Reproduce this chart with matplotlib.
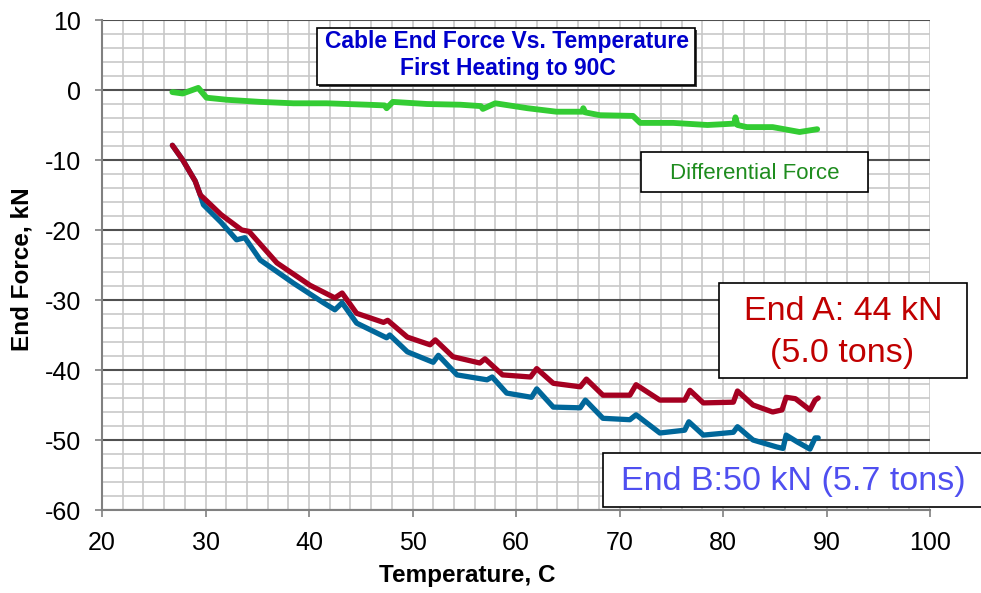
import matplotlib
matplotlib.use("Agg")
import matplotlib.pyplot as plt
from matplotlib.patches import Rectangle
from matplotlib.ticker import MultipleLocator

plt.rcParams["font.family"] = ["Liberation Sans", "DejaVu Sans"]
plt.rcParams["axes.unicode_minus"] = False

# End A (red)
temp_a = [26.8, 27.8, 29.0, 29.5, 29.8, 31.5, 33.5, 34.2, 36.9, 40.1, 42.5, 43.2, 44.6,
          47.2, 47.6, 49.5, 51.7, 52.2, 53.9, 56.5, 57.0, 58.7, 61.4, 62.0, 63.6,
          66.2, 66.8, 68.4, 71.0, 71.6, 73.9, 76.3, 76.8, 78.1, 81.0, 81.4, 82.9,
          84.8, 85.7, 86.1, 87.0, 88.4, 88.9, 89.2]
force_a = [-7.9, -10.0, -13.0, -15.0, -15.4, -17.8, -20.0, -20.2, -24.7, -27.9, -29.7, -29.0, -31.9,
           -33.2, -32.9, -35.3, -36.4, -35.7, -38.1, -39.0, -38.4, -40.7, -41.0, -39.8, -41.9,
           -42.4, -41.3, -43.6, -43.6, -42.1, -44.3, -44.3, -42.9, -44.7, -44.6, -43.0, -45.0,
           -46.0, -45.7, -43.9, -44.1, -45.7, -44.3, -44.0]

# End B (blue)
temp_b = [26.8, 27.8, 29.0, 29.5, 29.8, 31.5, 33.0, 33.8, 35.3, 38.5, 41.4, 42.5, 43.2, 44.6,
          47.5, 47.8, 49.5, 52.0, 52.5, 54.3, 57.2, 57.7, 59.1, 61.5, 62.0, 63.6,
          66.2, 66.7, 68.4, 71.0, 71.6, 73.9, 76.3, 76.7, 78.1, 81.0, 81.4, 82.9,
          85.2, 85.8, 86.1, 87.2, 88.4, 88.9, 89.2]
force_b = [-7.9, -10.0, -13.0, -15.0, -16.4, -18.9, -21.4, -21.1, -24.3, -27.6, -30.4, -31.4, -30.4, -33.3,
           -35.4, -35.0, -37.4, -38.9, -37.9, -40.7, -41.4, -41.0, -43.3, -43.9, -42.7, -45.3,
           -45.4, -44.3, -46.9, -47.1, -46.4, -49.0, -48.6, -47.4, -49.3, -48.9, -48.1, -50.0,
           -51.0, -51.2, -49.3, -50.3, -51.3, -49.7, -49.7]

# Differential force (green)
temp_d = [26.8, 27.8, 29.3, 30.1, 32.1, 35.3, 38.5, 41.7, 45.6, 47.3, 47.5, 48.1, 51.4,
          54.6, 56.6, 56.8, 58.0, 61.1, 63.9, 66.4, 66.5, 66.7, 68.1, 71.3, 72.0,
          75.2, 78.5, 81.1, 81.2, 81.4, 82.3, 84.8, 87.4, 89.1]
force_d = [-0.3, -0.5, 0.3, -1.1, -1.4, -1.7, -1.9, -1.9, -2.1, -2.2, -2.6, -1.7, -2.0,
           -2.1, -2.3, -2.7, -1.9, -2.6, -3.1, -3.1, -2.6, -3.2, -3.6, -3.7, -4.7,
           -4.7, -5.0, -4.8, -3.9, -5.0, -5.3, -5.3, -6.0, -5.6]

W, H = 981, 593


def px_box(fig, x0, y0, x1, y1, shadow=False):
    """Rectangle given in image pixels (origin top-left)."""
    if shadow:
        fig.patches.append(Rectangle((x0 / W + 2 / W, 1 - (y1 + 2) / H), (x1 - x0) / W, (y1 - y0) / H,
                                     transform=fig.transFigure, facecolor="#404040",
                                     edgecolor="none", zorder=9))
    fig.patches.append(Rectangle((x0 / W, 1 - y1 / H), (x1 - x0) / W, (y1 - y0) / H,
                                 transform=fig.transFigure, facecolor="white",
                                 edgecolor="black", lw=1.2, zorder=10))


def px_text(fig, x, y, s, **kw):
    fig.text(x / W, 1 - y / H, s, ha="center", va="baseline", zorder=11, **kw)


fig = plt.figure(figsize=(W / 100, H / 100), dpi=100)
ax = fig.add_axes([102 / W, 1 - 510 / H, (930 - 102) / W, (510 - 20) / H])

ax.plot(temp_d, force_d, color="#33CC33", lw=4.2, solid_capstyle="round", solid_joinstyle="round", zorder=3)
ax.plot(temp_b, force_b, color="#00679A", lw=3.8, solid_capstyle="round", solid_joinstyle="round", zorder=3)
ax.plot(temp_a, force_a, color="#A50021", lw=3.8, solid_capstyle="round", solid_joinstyle="round", zorder=4)

ax.set_xlim(20, 100)
ax.set_ylim(-60, 10)
ax.xaxis.set_major_locator(MultipleLocator(10))
ax.xaxis.set_minor_locator(MultipleLocator(2))
ax.yaxis.set_major_locator(MultipleLocator(10))
ax.yaxis.set_minor_locator(MultipleLocator(2))
ax.grid(which="minor", color="#C8C8C8", lw=1.2, zorder=0)
ax.grid(which="major", axis="x", color="#C8C8C8", lw=1.2, zorder=0)
ax.grid(which="major", axis="y", color="#505050", lw=1.5, zorder=1)
ax.set_axisbelow(True)
for s in ("top", "right"):
    ax.spines[s].set_visible(False)
for s in ("left", "bottom"):
    ax.spines[s].set_color("#808080")
    ax.spines[s].set_linewidth(1.5)
ax.tick_params(which="major", direction="out", length=5, width=1.2, color="#808080",
               labelsize=18, pad=10)
ax.tick_params(which="minor", length=0)

fig.text(22 / W, 1 - 269 / H, "End Force, kN", rotation=90, ha="center", va="center",
         fontsize=17.5, fontweight="bold")
fig.text(467 / W, 1 - 582 / H, "Temperature, C", ha="center", va="baseline",
         fontsize=17.5, fontweight="bold")

# title box
px_box(fig, 317, 28, 695, 85, shadow=True)
px_text(fig, 507, 48, "Cable End Force Vs. Temperature", fontsize=16.5, fontweight="bold", color="#0000CC")
px_text(fig, 508, 75, "First Heating to 90C", fontsize=16.5, fontweight="bold", color="#0000CC")

# differential force label
px_box(fig, 641, 152, 868, 192)
px_text(fig, 755, 179, "Differential Force", fontsize=16, color="#1E8C1E")

# End A label
px_box(fig, 719, 283, 967, 378)
px_text(fig, 843, 320, "End A: 44 kN", fontsize=24.5, color="#C00000")
px_text(fig, 842, 362, "(5.0 tons)", fontsize=24.5, color="#C00000")

# End B label
px_box(fig, 603, 453, 990, 507)
px_text(fig, 793, 490, "End B:50 kN (5.7 tons)", fontsize=24.5, color="#4F4FF0")

fig.savefig("out.png", dpi=100)
